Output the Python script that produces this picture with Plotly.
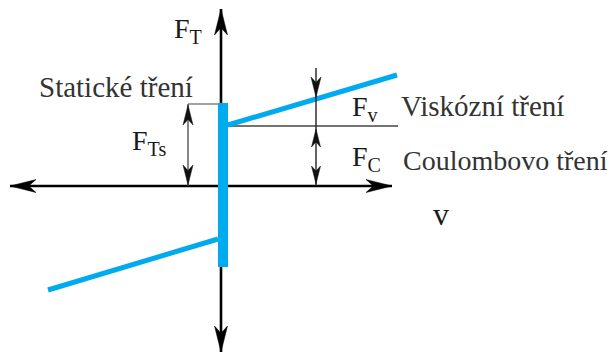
import plotly.graph_objects as go

# ---- data (diagram units, origin at intersection of the axes) ----
v_axis_extent = [-211, 171]          # velocity axis (left tip, right tip)
f_axis_extent = [-166, 177]          # friction-force axis (bottom tip, top tip)

static_bar_v = [2, 2]                # static friction jump at v = 0
static_bar_F = [-81, 83]

pos_branch_v = [7, 176]              # viscous + Coulomb branch, v > 0
pos_branch_F = [61, 111]
neg_branch_v = [-173, -3]            # branch, v < 0
neg_branch_F = [-104, -53]

coulomb_level_v = [7, 177]           # reference line at F = F_C
coulomb_level_F = [60, 60]

static_dim_v = -33                   # F_Ts dimension line
static_dim_F = [0, 82]
static_ref_v = [-33, -3]
static_ref_F = [82, 82]

visc_dim_v = 95                      # F_v / F_C dimension line
visc_top_F = 118
visc_line_F = 87

SUB = "<sub><span style='font-size:20px'>{}</span></sub>"
labels = ["F" + SUB.format("T"), "Statické tření", "F" + SUB.format("Ts"),
          "F" + SUB.format("v"), "Viskózní tření", "F" + SUB.format("C"),
          "Coulombovo tření", "v"]

BLUE = "#00AAEE"
FONT = "Liberation Serif"

fig = go.Figure()

def line(xs, ys, color, width):
    fig.add_trace(go.Scatter(x=xs, y=ys, mode="lines",
                             line=dict(color=color, width=width),
                             hoverinfo="skip", showlegend=False))

# axes (below the blue marks)
line(v_axis_extent, [0, 0], "black", 2.6)
line([0, 0], f_axis_extent, "black", 2.6)

# dimension / reference lines
line(coulomb_level_v, coulomb_level_F, "#444444", 1.4)
line(static_ref_v, static_ref_F, "#8a8a8a", 1.6)
line([static_dim_v, static_dim_v], static_dim_F, "#555555", 1.4)

# friction characteristic
line(static_bar_v, static_bar_F, BLUE, 10)
line(pos_branch_v, pos_branch_F, BLUE, 5)
line(neg_branch_v, neg_branch_F, BLUE, 5)

line([visc_dim_v, visc_dim_v], [visc_top_F, coulomb_level_F[0]], "#222222", 1.4)
line([visc_dim_v, visc_dim_v], [coulomb_level_F[0], 0], "#222222", 1.4)

# arrowheads (1 diagram unit == 1 pixel on both axes)
shapes = []
def head(x, y, ux, uy, L, W, color="black"):
    bx, by = x - ux * L, y - uy * L
    nx, ny = x - ux * L * 0.72, y - uy * L * 0.72
    px, py = -uy, ux
    pts = [(x, y), (bx + px * W, by + py * W), (nx, ny), (bx - px * W, by - py * W)]
    path = "M " + " L ".join(f"{a:.2f},{b:.2f}" for a, b in pts) + " Z"
    shapes.append(dict(type="path", path=path, xref="x", yref="y",
                       fillcolor=color, line=dict(color=color, width=0.5)))

head(v_axis_extent[1], 0, 1, 0, 26, 6.5)
head(v_axis_extent[0], 0, -1, 0, 26, 6.5)
head(0, f_axis_extent[1], 0, 1, 26, 6.5)
head(0, f_axis_extent[0], 0, -1, 26, 6.5)

head(static_dim_v, static_ref_F[0] - 1, 0, 1, 20, 5, "#111111")
head(static_dim_v, 1, 0, -1, 20, 5, "#111111")

head(visc_dim_v, visc_line_F + 2, 0, -1, 20, 5, "#111111")
head(visc_dim_v, coulomb_level_F[0] - 3, 0, 1, 18, 4.5, "#111111")
head(visc_dim_v, 2, 0, -1, 18, 4.5, "#111111")

# text labels
def text(s, x, y, anchor="left", size=28, color="#1a1a1a"):
    fig.add_annotation(x=x, y=y, text=s, showarrow=False, xanchor=anchor,
                       yanchor="middle", font=dict(family=FONT, size=size, color=color))

text(labels[0], -49, 156)
text(labels[1], -26, 99, anchor="right", size=29, color="#333333")
text(labels[2], -91, 44)
text(labels[3], 129, 78)
text(labels[4], 178, 80, size=29, color="#333333")
text(labels[5], 129, 28)
text(labels[6], 180, 26, size=28, color="#333333")
text(labels[7], 210, -28, size=32)

# the page body adds an 8 px margin, so the figure is 8 px smaller and its
# ranges start 8 px further in
fig.update_layout(
    width=608, height=350, autosize=False,
    margin=dict(l=0, r=0, t=0, b=0),
    paper_bgcolor="white", plot_bgcolor="white",
    xaxis=dict(range=[-213, 395], visible=False, fixedrange=True),
    yaxis=dict(range=[-172, 178], visible=False, fixedrange=True),
    shapes=shapes,
)

fig.write_html("out.html")
